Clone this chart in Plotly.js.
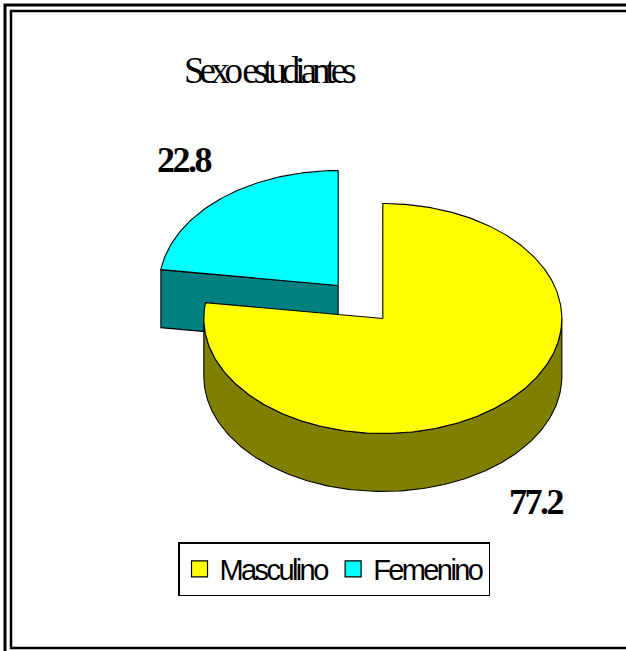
<!DOCTYPE html>
<html>
<head>
<meta charset="utf-8">
<script src="https://cdn.plot.ly/plotly-3.0.1.min.js"></script>
<style>html,body{margin:0;padding:0;background:#fff;}#chart{width:626px;height:651px;}</style>
</head>
<body>
<div id="chart"></div>
<script>
// ---- data ----
const categories = ['Masculino', 'Femenino'];
const values = [77.2, 22.8];
const valueLabels = ['77.2', '22.8'];
const faceColors = ['#FFFF00', '#00FFFF'];
const sideColors = ['#808000', '#008080'];

// ---- geometry (style constants) ----
const CX = 360.5, CY = 302, RX = 179, RY = 115, DEPTH = 58, EXPLODE = 0.19;
const rad = d => d * Math.PI / 180;
function pt(cx, cy, ang, dz) {
  return [cx + RX * Math.sin(rad(ang)), cy - RY * Math.cos(rad(ang)) + (dz || 0)];
}
function arc(cx, cy, a, b, dz) {
  const pts = [];
  const n = Math.max(2, Math.ceil(Math.abs(b - a)));
  for (let k = 0; k <= n; k++) pts.push(pt(cx, cy, a + (b - a) * k / n, dz));
  return pts;
}
function poly(pts, fill, name) {
  return {
    type: 'scatter', mode: 'lines', fill: 'toself', fillcolor: fill,
    x: pts.map(p => p[0]), y: pts.map(p => p[1]),
    line: {color: '#000', width: 1.1}, showlegend: false, hoverinfo: 'skip', name: name
  };
}

const total = values.reduce((s, v) => s + v, 0);
let cum = 0;
const slices = values.map((v, i) => {
  const a0 = cum / total * 360;
  cum += v;
  const a1 = cum / total * 360;
  const mid = (a0 + a1) / 2;
  const cx = CX + RX * EXPLODE * Math.sin(rad(mid));
  const cy = CY - RY * EXPLODE * Math.cos(rad(mid));
  return {i, a0, a1, mid, cx, cy};
});

const traces = [];
const annotations = [];
// draw back slices first
[...slices].sort((p, q) => Math.cos(rad(q.mid)) - Math.cos(rad(p.mid))).forEach(s => {
  const {i, a0, a1, cx, cy} = s;
  if (a0 > 180 && a0 < 360) {
    const p = pt(cx, cy, a0);
    traces.push(poly([[cx, cy], p, [p[0], p[1] + DEPTH], [cx, cy + DEPTH], [cx, cy]], sideColors[i], categories[i]));
  }
  const e = a1 % 360;
  if (e > 0 && e < 180) {
    const p = pt(cx, cy, a1);
    traces.push(poly([[cx, cy], p, [p[0], p[1] + DEPTH], [cx, cy + DEPTH], [cx, cy]], sideColors[i], categories[i]));
  }
  const lo = Math.max(a0, 90), hi = Math.min(a1, 270);
  if (lo < hi) {
    const top = arc(cx, cy, lo, hi, 0);
    const bot = arc(cx, cy, hi, lo, DEPTH);
    traces.push(poly(top.concat(bot, [top[0]]), sideColors[i], categories[i]));
  }
  traces.push(poly([[cx, cy]].concat(arc(cx, cy, a0, a1, 0), [[cx, cy]]), faceColors[i], categories[i]));
});

slices.forEach(s => {
  const front = Math.cos(rad(s.mid)) < 0;
  annotations.push({
    xref: 'x', yref: 'y',
    x: s.cx + RX * 1.31 * Math.sin(rad(s.mid)),
    y: s.cy - RY * 1.45 * Math.cos(rad(s.mid)) + (front ? DEPTH : 0),
    text: '<span style="letter-spacing:-2.5px">' + valueLabels[s.i] + '</span>',
    showarrow: false, xanchor: 'center', yanchor: 'middle',
    font: {family: 'Liberation Serif, Times New Roman, serif', size: 36, color: '#000', weight: 'bold'}
  });
});

// title
annotations.push({
  xref: 'x', yref: 'y', x: 270, y: 70,
  text: '<span style="letter-spacing:-5px">Sexo estudiantes</span>',
  showarrow: false, xanchor: 'center', yanchor: 'middle',
  font: {family: 'Liberation Serif, Times New Roman, serif', size: 37, color: '#000'}
});

// legend entries
categories.forEach((c, i) => {
  traces.push({
    type: 'scatter', mode: 'markers', x: [null], y: [null],
    name: '<span style="letter-spacing:-2.6px">' + c + '</span>',
    marker: {symbol: 'square', size: 17, color: faceColors[i], line: {color: '#000', width: 1.2}},
    showlegend: true, hoverinfo: 'skip'
  });
});

const layout = {
  width: 626, height: 651,
  margin: {l: 0, r: 0, t: 0, b: 0, pad: 0},
  paper_bgcolor: '#fff', plot_bgcolor: '#fff',
  xaxis: {range: [0, 626], visible: false, fixedrange: true},
  yaxis: {range: [651, 0], visible: false, fixedrange: true},
  showlegend: true,
  legend: {
    orientation: 'h', x: 178 / 626, y: 1 - 542 / 651, xanchor: 'left', yanchor: 'top',
    bgcolor: '#fff', bordercolor: '#000', borderwidth: 1.5,
    font: {family: 'Liberation Sans, Arial, sans-serif', size: 29, color: '#000'},
    itemclick: false, itemdoubleclick: false
  },
  annotations: annotations,
  shapes: [
    {type: 'rect', xref: 'x', yref: 'y', x0: 5, y0: 5, x1: 700, y1: 700, line: {color: '#000', width: 3}, fillcolor: 'rgba(0,0,0,0)'},
    {type: 'rect', xref: 'x', yref: 'y', x0: 11, y0: 11, x1: 700, y1: 648, line: {color: '#000', width: 2.5}, fillcolor: 'rgba(0,0,0,0)'}
  ],
  hovermode: false
};

Plotly.newPlot('chart', traces, layout, {staticPlot: true, displayModeBar: false});
</script>
</body>
</html>
